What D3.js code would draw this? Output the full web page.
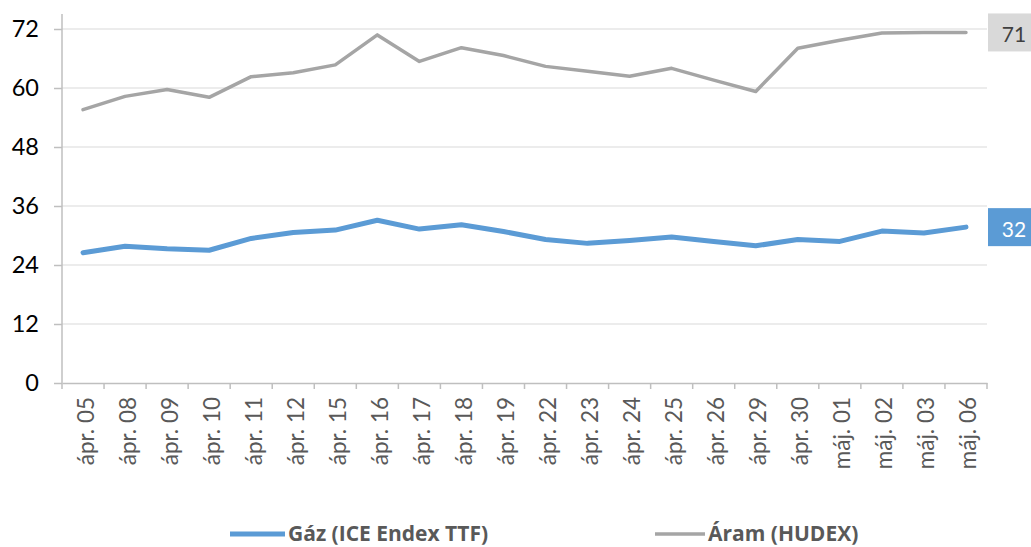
<!DOCTYPE html>
<html><head><meta charset="utf-8">
<script src="https://cdn.jsdelivr.net/npm/d3@7"></script>
<style>html,body{margin:0;padding:0;background:#fff;}svg{display:block;}</style>
</head><body>
<svg id="chart" width="1031" height="547"></svg>
<script>
const categories = ["ápr. 05","ápr. 08","ápr. 09","ápr. 10","ápr. 11","ápr. 12","ápr. 15","ápr. 16","ápr. 17","ápr. 18","ápr. 19","ápr. 22","ápr. 23","ápr. 24","ápr. 25","ápr. 26","ápr. 29","ápr. 30","máj. 01","máj. 02","máj. 03","máj. 06"];
const gas = [26.5,27.8,27.3,27.0,29.4,30.6,31.1,33.1,31.3,32.2,30.8,29.2,28.4,29.0,29.7,28.8,27.9,29.2,28.8,30.9,30.5,31.7];
const power = [55.6,58.3,59.7,58.1,62.3,63.1,64.7,70.8,65.4,68.2,66.6,64.4,63.4,62.4,64.0,61.6,59.3,68.1,69.7,71.2,71.3,71.3];
const yTicks = [0,12,24,36,48,60,72];
const seriesNames = ["Gáz (ICE Endex TTF)","Áram (HUDEX)"];
const seriesColors = ["#5b9bd5","#a5a5a5"];

(function(){
const svg = d3.select("#chart");
const pLeft = 62, pRight = 987, pTop = 29, pBottom = 383;
const x = d3.scaleBand().domain(categories).range([pLeft, pRight]);
const y = d3.scaleLinear().domain([0, 72]).range([pBottom, pTop]);
const font = "Lato, 'Open Sans', sans-serif";

// gridlines
svg.append("g").selectAll("line").data(yTicks.filter(d => d > 0)).join("line")
  .attr("x1", pLeft).attr("x2", pRight)
  .attr("y1", d => y(d)).attr("y2", d => y(d))
  .attr("stroke", "#d9d9d9").attr("stroke-width", 1);

// y axis
const yAxis = svg.append("g").attr("transform", `translate(${pLeft},0)`)
  .call(d3.axisLeft(y).tickValues(yTicks).tickSize(8).tickPadding(15));
yAxis.select(".domain").remove();
yAxis.append("line").attr("x1", 0).attr("x2", 0).attr("y1", 14).attr("y2", pBottom).attr("stroke", "#bfbfbf").attr("stroke-width", 1.5);
yAxis.selectAll(".tick line").attr("stroke", "#bfbfbf").attr("stroke-width", 1.5);
yAxis.selectAll(".tick text").attr("font-family", font).attr("font-size", 23.5).attr("fill", "#000");

// x axis
const xAxis = svg.append("g").attr("transform", `translate(0,${pBottom})`)
  .call(d3.axisBottom(x).tickSize(0));
xAxis.select(".domain").attr("stroke", "#bfbfbf").attr("stroke-width", 1.5);
xAxis.selectAll(".tick text")
  .attr("font-family", font).attr("font-size", 22.5).attr("fill", "#595959")
  .attr("transform", "rotate(-90)")
  .attr("text-anchor", "end").attr("dominant-baseline", "central")
  .attr("x", -14).attr("y", 2).attr("dy", null);
// boundary ticks
const bounds = categories.map(c => x(c)).concat([pRight]);
svg.append("g").selectAll("line").data(bounds).join("line")
  .attr("x1", d => d).attr("x2", d => d)
  .attr("y1", pBottom).attr("y2", pBottom + 6)
  .attr("stroke", "#bfbfbf").attr("stroke-width", 1.5);

const cx = c => x(c) + x.bandwidth() / 2;
const line = d3.line().x((d, i) => cx(categories[i])).y(d => y(d));

svg.append("path").datum(power).attr("d", line).attr("fill", "none")
  .attr("stroke", seriesColors[1]).attr("stroke-width", 3.5).attr("stroke-linejoin", "round").attr("stroke-linecap", "round");
svg.append("path").datum(gas).attr("d", line).attr("fill", "none")
  .attr("stroke", seriesColors[0]).attr("stroke-width", 5).attr("stroke-linejoin", "round").attr("stroke-linecap", "round");

// end labels
const endLabels = [
  {v: power[power.length - 1], fill: "#d9d9d9", text: "#404040"},
  {v: gas[gas.length - 1], fill: "#5b9bd5", text: "#ffffff"}
];
const lg = svg.append("g").selectAll("g").data(endLabels).join("g")
  .attr("transform", d => `translate(${pRight + 1},${y(d.v)})`);
lg.append("rect").attr("x", 0).attr("y", -19).attr("width", 52).attr("height", 38).attr("fill", d => d.fill);
lg.append("text").attr("x", 26).attr("y", 1).attr("text-anchor", "middle").attr("dominant-baseline", "central")
  .attr("font-family", font).attr("font-size", 21).attr("fill", d => d.text)
  .text(d => Math.round(d.v));

// legend
const legendItems = [
  {name: seriesNames[0], color: seriesColors[0], w: 5, x1: 230, x2: 285},
  {name: seriesNames[1], color: seriesColors[1], w: 3.5, x1: 655, x2: 705}
];
const leg = svg.append("g").selectAll("g").data(legendItems).join("g");
leg.append("line").attr("x1", d => d.x1).attr("x2", d => d.x2).attr("y1", 534).attr("y2", 534)
  .attr("stroke", d => d.color).attr("stroke-width", d => d.w);
leg.append("text").attr("x", d => d.x2 + 3).attr("y", 541)
  .attr("font-family", "'Open Sans', Lato, sans-serif").attr("font-size", 21).attr("font-weight", "bold").attr("fill", "#595959")
  .text(d => d.name);
})();
</script>
</body></html>
